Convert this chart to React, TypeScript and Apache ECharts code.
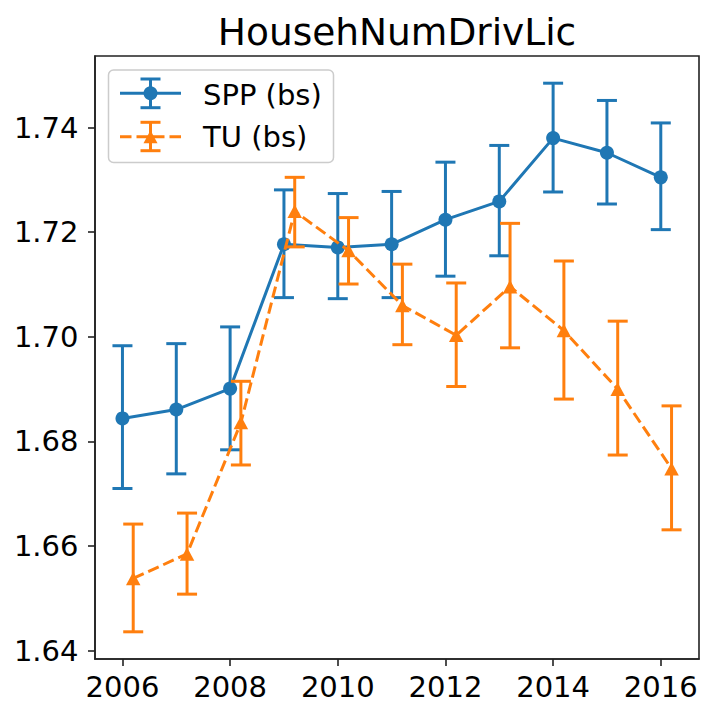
import React, { useEffect, useRef } from "react";
import * as echarts from "echarts";

const chartTitle = "HousehNumDrivLic";
const sppName = "SPP (bs)";
const tuName = "TU (bs)";

const sppYears = [2006, 2007, 2008, 2009, 2010, 2011, 2012, 2013, 2014, 2015, 2016];
const sppValues = [1.6844, 1.6861, 1.6901, 1.7177, 1.7171, 1.7177, 1.7224, 1.7259, 1.7380, 1.7352, 1.7305];
const sppLow = [1.6710, 1.6738, 1.6784, 1.7075, 1.7073, 1.7075, 1.7116, 1.7155, 1.7277, 1.7254, 1.7205];
const sppHigh = [1.6983, 1.6987, 1.7019, 1.7281, 1.7274, 1.7278, 1.7334, 1.7366, 1.7485, 1.7452, 1.7409];

const tuYears = [2006.2, 2007.2, 2008.2, 2009.2, 2010.2, 2011.2, 2012.2, 2013.2, 2014.2, 2015.2, 2016.2];
const tuValues = [1.6538, 1.6585, 1.6836, 1.7240, 1.7165, 1.7060, 1.7003, 1.7096, 1.7012, 1.6900, 1.6748];
const tuLow = [1.6436, 1.6508, 1.6755, 1.7172, 1.7101, 1.6985, 1.6905, 1.6979, 1.6881, 1.6774, 1.6631];
const tuHigh = [1.6642, 1.6663, 1.6915, 1.7305, 1.7228, 1.7139, 1.7103, 1.7217, 1.7145, 1.7030, 1.6868];

const xTicks = [2006, 2008, 2010, 2012, 2014, 2016];
const yTicks = [1.64, 1.66, 1.68, 1.70, 1.72, 1.74];

const BLUE = "#1f77b4";
const ORANGE = "#ff7f0e";
const FONT = "DejaVu Sans";
const DASH = [11.5, 5];
const TICK_FONT = 29;
const TITLE_FONT = 37.5;

function errorSeries(name: string, xs: number[], lo: number[], hi: number[], color: string, z: number) {
  return {
    type: "custom",
    name: name + " err",
    z,
    silent: true,
    data: xs.map((x, i) => [x, lo[i], hi[i]]),
    encode: { x: 0, y: [1, 2] },
    renderItem: (params: any, api: any) => {
      const x = api.value(0);
      const top = api.coord([x, api.value(2)]);
      const bot = api.coord([x, api.value(1)]);
      const cw = 10;
      const style = { stroke: color, lineWidth: 3, fill: null };
      return {
        type: "group",
        children: [
          { type: "line", shape: { x1: top[0], y1: top[1], x2: bot[0], y2: bot[1] }, style },
          { type: "line", shape: { x1: top[0] - cw, y1: top[1], x2: top[0] + cw, y2: top[1] }, style },
          { type: "line", shape: { x1: bot[0] - cw, y1: bot[1], x2: bot[0] + cw, y2: bot[1] }, style },
        ],
      };
    },
  };
}

export default function App() {
  const ref = useRef<HTMLDivElement>(null);
  useEffect(() => {
    document.body.style.margin = "0";
    if (!ref.current) return;
    const chart = echarts.init(ref.current, null, { renderer: "svg" });
    const lx = 150.5;
    const r1 = 93.3;
    const r2 = 136.7;
    const cw = 10;
    const legendGraphics: any[] = [
      {
        type: "rect",
        shape: { x: 108.5, y: 70, width: 225, height: 92.5, r: 5 },
        style: { fill: "rgba(255,255,255,0.8)", stroke: "#cccccc", lineWidth: 1.5 },
        z: 100,
      },
      { type: "line", shape: { x1: 120, y1: r1, x2: 181, y2: r1 }, style: { stroke: BLUE, lineWidth: 3 }, z: 101 },
      { type: "line", shape: { x1: lx, y1: r1 - 14.3, x2: lx, y2: r1 + 14.4 }, style: { stroke: BLUE, lineWidth: 3 }, z: 101 },
      { type: "line", shape: { x1: lx - cw, y1: r1 - 14.3, x2: lx + cw, y2: r1 - 14.3 }, style: { stroke: BLUE, lineWidth: 3 }, z: 101 },
      { type: "line", shape: { x1: lx - cw, y1: r1 + 14.4, x2: lx + cw, y2: r1 + 14.4 }, style: { stroke: BLUE, lineWidth: 3 }, z: 101 },
      { type: "circle", shape: { cx: lx, cy: r1, r: 7 }, style: { fill: BLUE }, z: 102 },
      {
        type: "text",
        x: 203,
        y: 94.5,
        style: { text: sppName, fontFamily: FONT, fontSize: TICK_FONT, fill: "#000", align: "left", verticalAlign: "middle" },
        z: 102,
      },
      { type: "line", shape: { x1: 120, y1: r2, x2: 181, y2: r2 }, style: { stroke: ORANGE, lineWidth: 3, lineDash: DASH }, z: 101 },
      { type: "line", shape: { x1: lx, y1: r2 - 14.4, x2: lx, y2: r2 + 14 }, style: { stroke: ORANGE, lineWidth: 3 }, z: 101 },
      { type: "line", shape: { x1: lx - cw, y1: r2 - 14.4, x2: lx + cw, y2: r2 - 14.4 }, style: { stroke: ORANGE, lineWidth: 3 }, z: 101 },
      { type: "line", shape: { x1: lx - cw, y1: r2 + 14, x2: lx + cw, y2: r2 + 14 }, style: { stroke: ORANGE, lineWidth: 3 }, z: 101 },
      {
        type: "polygon",
        shape: { points: [[lx, r2 - 6.5], [lx - 7, r2 + 6.5], [lx + 7, r2 + 6.5]] },
        style: { fill: ORANGE },
        z: 102,
      },
      {
        type: "text",
        x: 203,
        y: 136.5,
        style: { text: tuName, fontFamily: FONT, fontSize: TICK_FONT, fill: "#000", align: "left", verticalAlign: "middle" },
        z: 102,
      },
      {
        type: "text",
        x: 397,
        y: 31.5,
        style: { text: chartTitle, fontFamily: FONT, fontSize: TITLE_FONT, fill: "#000", align: "center", verticalAlign: "middle" },
        z: 102,
      },
    ];

    const option: any = {
      animation: false,
      backgroundColor: "#ffffff",
      textStyle: { fontFamily: FONT },
      grid: {
        left: 95,
        right: 17,
        top: 56,
        bottom: 58,
        show: true,
        borderColor: "#222222",
        borderWidth: 1.6,
        backgroundColor: "transparent",
        containLabel: false,
        outerBoundsMode: "none",
      },
      xAxis: {
        type: "value",
        min: 2005.49,
        max: 2016.71,
        axisLine: { show: true, onZero: false, lineStyle: { color: "#222222", width: 1.6 } },
        axisTick: { show: true, length: 7, lineStyle: { color: "#222222", width: 1.6 }, customValues: xTicks },
        axisLabel: {
          show: true,
          customValues: xTicks,
          margin: 13,
          fontSize: TICK_FONT,
          fontFamily: FONT,
          color: "#000",
          formatter: (v: number) => String(Math.round(v)),
        },
        splitLine: { show: false },
      },
      yAxis: {
        type: "value",
        min: 1.6384,
        max: 1.7537,
        axisLine: { show: true, onZero: false, lineStyle: { color: "#222222", width: 1.6 } },
        axisTick: { show: true, length: 7, lineStyle: { color: "#222222", width: 1.6 }, customValues: yTicks },
        axisLabel: {
          show: true,
          customValues: yTicks,
          margin: 16.5,
          fontSize: TICK_FONT,
          fontFamily: FONT,
          color: "#000",
          formatter: (v: number) => v.toFixed(2),
        },
        splitLine: { show: false },
      },
      series: [
        errorSeries(sppName, sppYears, sppLow, sppHigh, BLUE, 2),
        {
          type: "line",
          name: sppName,
          z: 3,
          data: sppYears.map((x, i) => [x, sppValues[i]]),
          symbol: "circle",
          symbolSize: 14,
          showSymbol: true,
          itemStyle: { color: BLUE },
          lineStyle: { color: BLUE, width: 3 },
          emphasis: { disabled: true },
          silent: true,
        },
        errorSeries(tuName, tuYears, tuLow, tuHigh, ORANGE, 4),
        {
          type: "line",
          name: tuName,
          z: 5,
          data: tuYears.map((x, i) => [x, tuValues[i]]),
          symbol: "triangle",
          symbolSize: [14.5, 13.5],
          showSymbol: true,
          itemStyle: { color: ORANGE },
          lineStyle: { color: ORANGE, width: 3, type: DASH },
          emphasis: { disabled: true },
          silent: true,
        },
      ],
      graphic: legendGraphics,
    };
    chart.setOption(option);
    return () => {
      chart.dispose();
    };
  }, []);
  return <div ref={ref} style={{ width: 716, height: 717 }} />;
}
